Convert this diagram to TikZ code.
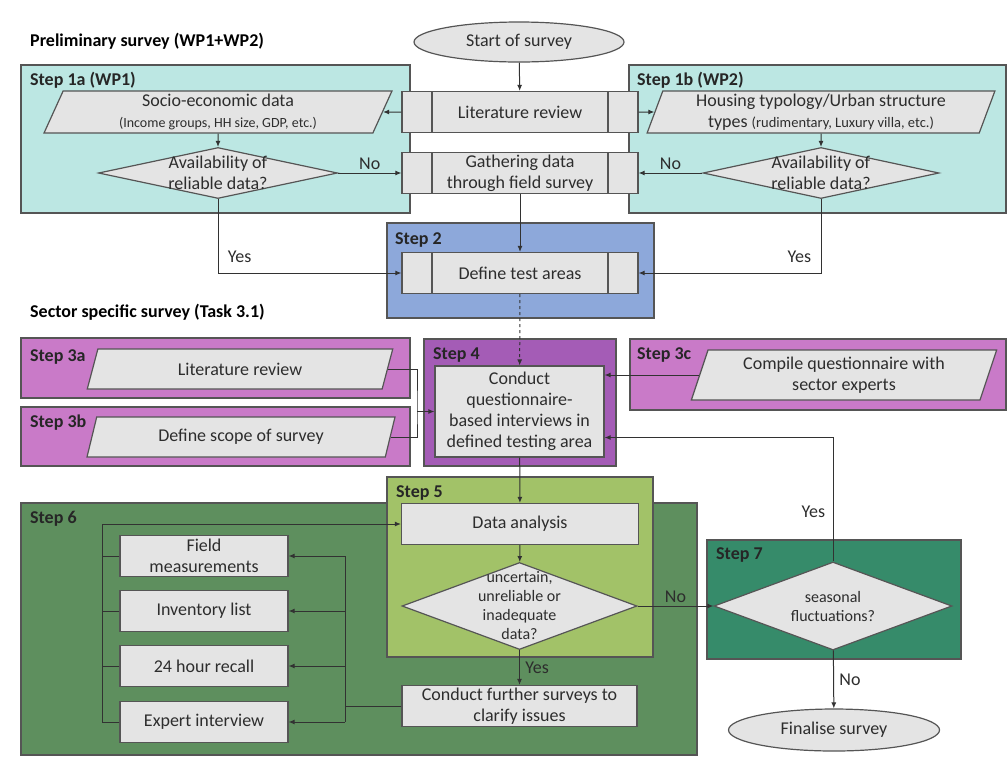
\documentclass[tikz,border=0pt]{standalone}
\usepackage{fontspec}
\setmainfont{Carlito}
\usepackage{tikz}
\usetikzlibrary{shapes.geometric, arrows.meta}

\definecolor{tealbg}{RGB}{188,231,227}
\definecolor{bluebg}{RGB}{141,168,218}
\definecolor{pinkbg}{RGB}{201,122,200}
\definecolor{purplebg}{RGB}{164,92,182}
\definecolor{lgreenbg}{RGB}{162,194,104}
\definecolor{dgreenbg}{RGB}{94,143,94}
\definecolor{tgreenbg}{RGB}{54,139,106}
\definecolor{boxgray}{RGB}{228,228,228}
\definecolor{framegray}{RGB}{85,85,85}
\definecolor{linegray}{RGB}{50,50,50}
\definecolor{txtgray}{RGB}{45,45,45}

\begin{document}
\begin{tikzpicture}[x=1pt, y=-1pt,
            font=\fontsize{18}{21}\selectfont,
            every node/.style = {text=txtgray},
            stepframe/.style = {draw=framegray, line width=1.2pt},
            title/.style = {anchor=west, inner sep=0pt, font=\fontsize{18}{21}\selectfont\bfseries, text=black},
            steplabel/.style = {anchor=west, inner sep=0pt, font=\fontsize{18}{21}\selectfont\bfseries, text=black!85},
            plainbox/.style = {rectangle, draw=framegray, fill=boxgray, line width=1.2pt,
                                align=center, inner sep=1pt, minimum height=41pt},
            procbox/.style = {plainbox, minimum width=236pt,
                                path picture={\draw[framegray, line width=1.2pt]
                                    ([xshift=30pt]path picture bounding box.north west) -- ([xshift=30pt]path picture bounding box.south west)
                                    ([xshift=-30pt]path picture bounding box.north east) -- ([xshift=-30pt]path picture bounding box.south east);}},
            dataslant/.style = {trapezium, trapezium left angle=72, trapezium right angle=108,
                                trapezium stretches=true, draw=framegray, fill=boxgray,
                                line width=1.2pt, align=center, inner sep=1pt},
            decision/.style = {diamond, draw=framegray, fill=boxgray, line width=1.2pt, inner sep=0pt},
            terminal/.style = {ellipse, draw=framegray, fill=boxgray, line width=1.2pt,
                                minimum width=210pt, minimum height=40pt},
            small/.style = {font=\fontsize{16}{19}\selectfont},
            line/.style = {draw=linegray, line width=1pt},
            conn/.style = {line, -{Latex[length=6pt, width=5pt]}}]
    \useasboundingbox (0,0) rectangle (1008,756);

    % step frames
    \draw[stepframe, fill=tealbg] (21,65) rectangle (410,213);
    \draw[stepframe, fill=tealbg] (629,65) rectangle (1006,213);
    \draw[stepframe, fill=bluebg] (387,223) rectangle (654,318);
    \draw[stepframe, fill=pinkbg] (21,338) rectangle (410,398);
    \draw[stepframe, fill=pinkbg] (21,407) rectangle (410,466);
    \draw[stepframe, fill=purplebg] (424,339) rectangle (616,466);
    \draw[stepframe, fill=pinkbg] (630,339) rectangle (1006,410);
    \draw[stepframe, fill=dgreenbg] (21,503) rectangle (697,755);
    \draw[stepframe, fill=lgreenbg] (387,477) rectangle (653,657);
    \draw[stepframe, fill=tgreenbg] (707,540) rectangle (961,659);

    \node[title] (prelim) at (30,41) {Preliminary survey (WP1+WP2)};
    \node[title] (sector) at (30,312) {Sector specific survey (Task 3.1)};
    \node[steplabel] (lab1a) at (30,80) {Step 1a (WP1)};
    \node[steplabel] (lab1b) at (637,80) {Step 1b (WP2)};
    \node[steplabel] (lab2) at (395,240) {Step 2};
    \node[steplabel] (lab3a) at (30,357) {Step 3a};
    \node[steplabel] (lab3b) at (30,423) {Step 3b};
    \node[steplabel] (lab4) at (433,355) {Step 4};
    \node[steplabel] (lab3c) at (637,355) {Step 3c};
    \node[steplabel] (lab5) at (396,493) {Step 5};
    \node[steplabel] (lab6) at (30,519) {Step 6};
    \node[steplabel] (lab7) at (716,555) {Step 7};

    % preliminary survey
    \node[terminal] (start) at (519,42) {Start of survey};
    \node[procbox] (litrev) at (520,112) {Literature review};
    \node[procbox] (gather) at (520,173) {Gathering data\\through field survey};
    \node[procbox] (define) at (520,273) {Define test areas};
    \node[dataslant, minimum width=349pt, minimum height=42pt] (socio) at (218,112)
        {Socio-economic data\\{\fontsize{14}{15}\selectfont (Income groups, HH size, GDP, etc.)}};
    \node[dataslant, minimum width=349pt, minimum height=42pt] (housing) at (821,112)
        {Housing typology/Urban structure\\types {\fontsize{14.5}{15}\selectfont (rudimentary, Luxury villa, etc.)}};
    \node[decision, minimum width=239pt, minimum height=51pt] (availa) at (218,173) {};
    \node[align=center, inner sep=0pt] (availa-txt) at (availa) {Availability of\\reliable data?};
    \node[decision, minimum width=236pt, minimum height=51pt] (availb) at (821,173) {};
    \node[align=center, inner sep=0pt] (availb-txt) at (availb) {Availability of\\reliable data?};

    % sector specific survey
    \node[dataslant, minimum width=306pt, minimum height=40pt] (lit3a) at (240,369) {Literature review};
    \node[dataslant, minimum width=308pt, minimum height=40pt] (scope3b) at (241,437) {Define scope of survey};
    \node[dataslant, minimum width=306pt, minimum height=50pt] (compile) at (844,375)
        {Compile questionnaire with\\sector experts};
    \node[plainbox, minimum width=169pt, minimum height=91pt, inner sep=2pt] (conduct) at (519.5,411.5)
        {Conduct\\questionnaire-\\based interviews in\\defined testing area};
    \coordinate (join34) at (417,411.5);

    % analysis
    \node[plainbox, minimum width=237pt] (analysis) at (520,524) {Data analysis};
    \node[decision, minimum width=235pt, minimum height=87pt] (uncert) at (519.5,606) {};
    \node[small, align=center, inner sep=0pt] (uncert-txt) at (uncert) {uncertain,\\unreliable or\\inadequate\\data?};
    \node[plainbox, minimum width=235pt] (further) at (519.5,706) {Conduct further surveys to\\clarify issues};
    \node[decision, minimum width=238pt, minimum height=88pt] (seasonal) at (833,606) {};
    \node[small, align=center, inner sep=0pt] (seasonal-txt) at (seasonal) {seasonal\\fluctuations?};
    \node[terminal, minimum width=211pt, minimum height=42pt] (finalise) at (834,730) {Finalise survey};

    \node[plainbox, minimum width=168pt] (field) at (204,556) {Field\\measurements};
    \node[plainbox, minimum width=168pt] (inventory) at (204,611) {Inventory list};
    \node[plainbox, minimum width=168pt] (recall) at (204,666) {24 hour recall};
    \node[plainbox, minimum width=168pt] (expert) at (204,722) {Expert interview};
    \coordinate (lbus) at (102,524);
    \coordinate (rbus) at (345,706);

    \draw[conn] (start) -- (litrev);
    \draw[conn] (litrev.west) -- (socio.east);
    \draw[conn] (litrev.east) -- (housing.west);
    \draw[conn] (socio.south) -- (availa.north);
    \draw[conn] (housing.south) -- (availb.north);
    \draw[conn] (availa.east) -- node[above]{No} (gather.west);
    \draw[conn] (availb.west) -- node[above]{No} (gather.east);
    \draw[conn] (availa.south) |- node[right=6pt, pos=0.39]{Yes} (define.west);
    \draw[conn] (availb.south) |- node[left=6pt, pos=0.39]{Yes} (define.east);
    \draw[conn] (gather) -- (define);
    \draw[conn, dashed] (define) -- (conduct);

    \draw[line] (lit3a.east) -| (join34) |- (scope3b.east);
    \draw[conn] (join34) -- (conduct.west);
    \draw[conn] (compile.west) -- (compile.west -| conduct.east);
    \draw[conn] (seasonal.north) |- node[left=4pt, pos=0.2]{Yes} ([yshift=-26pt]conduct.east);

    \draw[conn] (conduct) -- (analysis);
    \draw[conn] (analysis) -- (uncert);
    \draw[conn] (uncert) -- node[right=2pt]{Yes} (further);
    \draw[conn] (uncert.east) -- node[above]{No} (seasonal.west);
    \draw[conn] (seasonal) -- node[right=2pt]{No} (finalise);

    \draw[line] (further.west) -- (rbus);
    \draw[line] (rbus |- field.east) -- (rbus |- expert.east);
    \foreach \n in {field, inventory, recall, expert} {
        \draw[conn] (rbus |- \n.east) -- (\n.east);
        \draw[line] (\n.west) -- (lbus |- \n.west);
    }
    \draw[line] (lbus |- expert.west) -- (lbus);
    \draw[conn] (lbus) -- (analysis.west);
\end{tikzpicture}
\end{document}
